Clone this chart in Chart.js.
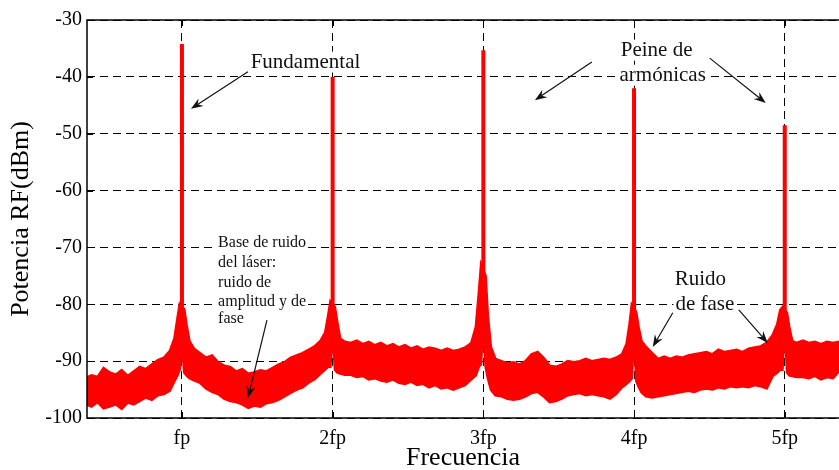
<!DOCTYPE html>
<html>
<head>
<meta charset="utf-8">
<script src="https://cdn.jsdelivr.net/npm/chart.js@4.4.1/dist/chart.umd.min.js"></script>
<style>
  html, body { margin: 0; padding: 0; background: #fff; }
  #caja { width: 839px; height: 470px; }
</style>
</head>
<body>
<div id="caja"><canvas id="grafico"></canvas></div>
<script>
// frecuencia en múltiplos de fp
var freq = [
  0.36, 0.40, 0.44, 0.48, 0.52, 0.56, 0.60, 0.64, 0.68, 0.72, 0.76, 0.80, 0.84, 0.88, 0.92,
  0.95, 0.97, 0.985, 1.00, 1.015, 1.03, 1.05, 1.08,
  1.12, 1.16, 1.20, 1.24, 1.28, 1.32, 1.36, 1.40, 1.44, 1.48, 1.52, 1.56, 1.60, 1.64, 1.68, 1.72, 1.76, 1.80, 1.84, 1.88, 1.92,
  1.95, 1.97, 1.985, 2.00, 2.015, 2.03, 2.05, 2.08,
  2.12, 2.16, 2.20, 2.24, 2.28, 2.32, 2.36, 2.40, 2.44, 2.48, 2.52, 2.56, 2.60, 2.64, 2.68, 2.72, 2.76, 2.80, 2.84, 2.88, 2.92,
  2.95, 2.97, 2.985, 3.00, 3.015, 3.03, 3.05, 3.08,
  3.12, 3.16, 3.20, 3.24, 3.28, 3.32, 3.36, 3.40, 3.44, 3.48, 3.52, 3.56, 3.60, 3.64, 3.68, 3.72, 3.76, 3.80, 3.84, 3.88, 3.92,
  3.95, 3.97, 3.985, 4.00, 4.015, 4.03, 4.05, 4.08,
  4.12, 4.16, 4.20, 4.24, 4.28, 4.32, 4.36, 4.40, 4.44, 4.48, 4.52, 4.56, 4.60, 4.64, 4.68, 4.72, 4.76, 4.80, 4.84, 4.88, 4.92,
  4.95, 4.97, 4.985, 5.00, 5.015, 5.03, 5.05, 5.08,
  5.12, 5.16, 5.20, 5.24, 5.28, 5.32, 5.36
];

// borde superior de la base de ruido (dBm)
var superior = [
  -93.0, -92.5, -92.8, -91.2, -92.0, -92.4, -91.6, -92.6, -91.8, -91.0, -91.4, -90.6, -89.8, -89.4, -88.2,
  -86.0, -82.5, -80.0, -80.5, -80.8, -83.5, -86.5, -87.8,
  -88.6, -89.4, -89.0, -90.2, -90.8, -91.0, -91.8, -91.4, -92.2, -92.0, -91.6, -91.8, -91.2, -90.6, -90.2, -89.4, -89.0, -88.6, -88.0, -87.4, -86.4,
  -85.0, -82.0, -79.5, -80.0, -80.5, -83.0, -86.0, -86.6,
  -86.8, -86.4, -87.0, -86.6, -87.2, -86.8, -87.4, -87.0, -87.6, -87.2, -87.8, -87.4, -88.0, -87.6, -87.8, -88.2, -87.8, -88.2, -88.0, -87.6, -86.8,
  -84.0, -78.0, -73.0, -74.0, -75.0, -82.0, -87.5, -89.6,
  -90.0, -90.4, -90.2, -90.6, -90.0, -88.8, -88.4, -89.4, -90.8, -91.0, -90.6, -90.0, -90.2, -90.0, -89.6, -90.0, -89.8, -89.6, -89.8, -89.4, -88.8,
  -87.0, -83.5, -80.0, -80.5, -81.5, -84.0, -86.5, -87.5,
  -88.6, -89.6, -89.2, -89.6, -89.2, -89.4, -89.0, -88.8, -88.6, -88.4, -88.8, -88.0, -88.4, -88.2, -88.0, -88.4, -87.8, -87.6, -87.4, -86.8, -85.4,
  -83.5, -81.0, -80.5, -81.0, -81.5, -84.0, -86.5, -86.8,
  -86.4, -86.8, -86.6, -87.0, -86.6, -86.8, -86.6
];

// borde inferior de la base de ruido (dBm)
var inferior = [
  -97.5, -98.0, -97.2, -98.3, -98.0, -97.6, -98.4, -97.3, -97.6, -97.0, -96.4, -96.8, -96.0, -95.8, -95.2,
  -93.5, -92.5, -91.5, -86.5, -92.0, -92.5, -93.0, -93.4,
  -93.8, -94.8, -95.4, -95.8, -96.6, -97.0, -97.2, -97.6, -98.2, -97.8, -98.0, -97.4, -97.2, -96.8, -96.2, -95.6, -95.0, -94.6, -93.8, -93.2, -92.2,
  -91.5, -91.0, -91.0, -85.0, -91.5, -92.0, -92.2, -92.4,
  -92.4, -92.8, -92.6, -93.2, -93.0, -93.4, -93.6, -93.2, -93.8, -94.0, -93.6, -94.2, -94.0, -94.6, -94.2, -94.8, -94.6, -95.0, -94.6, -94.2, -93.2,
  -92.5, -91.0, -90.5, -82.0, -91.0, -93.0, -95.0, -96.0,
  -96.2, -96.6, -96.8, -96.6, -96.2, -95.6, -95.4, -96.2, -97.2, -97.0, -96.6, -96.0, -95.8, -95.6, -96.0, -95.8, -96.0, -96.2, -96.6, -95.8, -94.6,
  -94.0, -93.5, -93.0, -85.0, -93.5, -94.5, -95.5, -96.2,
  -96.4, -96.2, -96.0, -95.8, -95.6, -95.4, -95.2, -95.4, -95.0, -94.8, -95.0, -94.6, -94.8, -94.4, -94.6, -94.4, -94.6, -94.2, -94.4, -94.8, -92.6,
  -92.0, -91.5, -91.5, -83.5, -92.0, -92.5, -92.6, -92.8,
  -92.8, -93.0, -92.6, -93.2, -92.8, -93.0, -91.8
];

// armónicos: posición, pico y pie de cada raya
var armonicos = [1, 2, 3, 4, 5];
var picos = [-34.2, -40.0, -35.3, -42.0, -48.5];
var piePico = [-86.5, -85.0, -82.0, -85.0, -83.5];
var etiquetasX = ['fp', '2fp', '3fp', '4fp', '5fp'];

var serif = '"Liberation Serif", "DejaVu Serif", serif';

// textos y flechas (en unidades de los ejes)
var notas = [
  { t: 'Fundamental', x: 1.82, y: -37.4, s: 21, a: 'center' },
  { t: 'Peine de', x: 4.15, y: -35.3, s: 21, a: 'center' },
  { t: 'armónicas', x: 4.19, y: -39.7, s: 21, a: 'center' },
  { t: 'Base de ruido', x: 1.24, y: -69.2, s: 16, a: 'left' },
  { t: 'del láser:', x: 1.24, y: -72.7, s: 16, a: 'left' },
  { t: 'ruido de', x: 1.24, y: -76.3, s: 16, a: 'left' },
  { t: 'amplitud y de', x: 1.24, y: -79.6, s: 16, a: 'left' },
  { t: 'fase', x: 1.24, y: -82.6, s: 16, a: 'left' },
  { t: 'Ruido', x: 4.44, y: -75.7, s: 21, a: 'center' },
  { t: 'de fase', x: 4.47, y: -80.1, s: 21, a: 'center' }
];
var flechas = [
  [1.438, -39.1, 1.060, -45.6],
  [3.720, -37.4, 3.342, -44.1],
  [4.502, -36.7, 4.874, -44.6],
  [1.564, -82.8, 1.438, -96.5],
  [4.257, -81.5, 4.124, -87.5],
  [4.695, -81.0, 4.887, -86.8]
];

var bordeInf = freq.map(function(f, i) { return { x: f, y: inferior[i] }; });
var bordeSup = freq.map(function(f, i) { return { x: f, y: superior[i] }; });
var rayas = [];
armonicos.forEach(function(k, i) {
  rayas.push({ x: k, y: piePico[i] }, { x: k, y: picos[i] }, { x: k, y: null });
});

var anotaciones = {
  id: 'anotaciones',
  beforeDatasetsDraw: function(chart) {
    var ctx = chart.ctx, sx = chart.scales.x, sy = chart.scales.y;
    ctx.save();
    ctx.textBaseline = 'middle';
    notas.forEach(function(n) {
      ctx.font = n.s + 'px ' + serif;
      var w = ctx.measureText(n.t).width;
      var px = sx.getPixelForValue(n.x), py = sy.getPixelForValue(n.y);
      var x0 = n.a === 'center' ? px - w / 2 : px;
      ctx.fillStyle = '#fff';
      ctx.fillRect(x0 - 2, py - n.s * 0.5, w + 4, n.s);
      ctx.fillStyle = '#111';
      ctx.textAlign = 'left';
      ctx.fillText(n.t, x0, py);
    });
    ctx.restore();
  },
  afterDatasetsDraw: function(chart) {
    var ctx = chart.ctx, sx = chart.scales.x, sy = chart.scales.y;
    var a = chart.chartArea;
    ctx.save();
    // flechas
    ctx.strokeStyle = '#111';
    ctx.fillStyle = '#111';
    ctx.lineWidth = 1.2;
    flechas.forEach(function(f) {
      var x1 = sx.getPixelForValue(f[0]), y1 = sy.getPixelForValue(f[1]);
      var x2 = sx.getPixelForValue(f[2]), y2 = sy.getPixelForValue(f[3]);
      var ang = Math.atan2(y2 - y1, x2 - x1);
      ctx.beginPath();
      ctx.moveTo(x1, y1);
      ctx.lineTo(x2 - 6 * Math.cos(ang), y2 - 6 * Math.sin(ang));
      ctx.stroke();
      ctx.beginPath();
      ctx.moveTo(x2, y2);
      ctx.lineTo(x2 - 12 * Math.cos(ang) + 4.5 * Math.sin(ang), y2 - 12 * Math.sin(ang) - 4.5 * Math.cos(ang));
      ctx.lineTo(x2 - 8 * Math.cos(ang), y2 - 8 * Math.sin(ang));
      ctx.lineTo(x2 - 12 * Math.cos(ang) - 4.5 * Math.sin(ang), y2 - 12 * Math.sin(ang) + 4.5 * Math.cos(ang));
      ctx.closePath();
      ctx.fill();
    });
    // marco y marcas interiores
    ctx.strokeStyle = '#000';
    ctx.lineWidth = 1.5;
    ctx.beginPath();
    ctx.moveTo(a.right + 2, a.top);
    ctx.lineTo(a.left, a.top);
    ctx.lineTo(a.left, a.bottom);
    ctx.lineTo(a.right + 2, a.bottom);
    ctx.stroke();
    ctx.lineWidth = 1;
    ctx.beginPath();
    sx.ticks.forEach(function(t) {
      var px = Math.round(sx.getPixelForValue(t.value)) + 0.5;
      ctx.moveTo(px, a.bottom); ctx.lineTo(px, a.bottom - 6);
      ctx.moveTo(px, a.top); ctx.lineTo(px, a.top + 6);
    });
    sy.ticks.forEach(function(t) {
      var py = Math.round(sy.getPixelForValue(t.value)) + 0.5;
      ctx.moveTo(a.left, py); ctx.lineTo(a.left + 6, py);
    });
    ctx.stroke();
    ctx.restore();
  }
};

var ctx = document.getElementById('grafico').getContext('2d');
var grafico = new Chart(ctx, {
  type: 'line',
  data: {
    datasets: [{
      label: 'inferior',
      data: bordeInf,
      borderColor: '#ff0000',
      borderWidth: 2.5,
      pointRadius: 0,
      fill: false,
      clip: 0
    }, {
      label: 'superior',
      data: bordeSup,
      borderColor: '#ff0000',
      backgroundColor: '#ff0000',
      borderWidth: 2.5,
      pointRadius: 0,
      fill: '-1',
      clip: 0
    }, {
      label: 'armónicos',
      data: rayas,
      borderColor: '#ff0000',
      borderWidth: 4,
      borderCapStyle: 'butt',
      pointRadius: 0,
      spanGaps: false,
      fill: false,
      clip: 0
    }]
  },
  options: {
    responsive: true,
    maintainAspectRatio: false,
    animation: false,
    layout: { padding: { top: 20, right: 0, left: 0, bottom: 0 } },
    plugins: {
      legend: { display: false },
      tooltip: { enabled: false }
    },
    scales: {
      x: {
        type: 'linear',
        min: 0.37,
        max: 5.36,
        afterBuildTicks: function(scale) {
          scale.ticks = armonicos.map(function(v) { return { value: v }; });
        },
        afterFit: function(scale) { scale.height = 52; },
        ticks: {
          color: '#000',
          padding: 9,
          maxRotation: 0,
          font: { family: serif, size: 20 },
          callback: function(v, i) { return etiquetasX[i]; }
        },
        grid: { color: '#000', lineWidth: 1, drawTicks: false },
        border: { display: false, dash: [8, 5] },
        title: {
          display: true,
          text: 'Frecuencia',
          color: '#000',
          font: { family: serif, size: 26, lineHeight: 0.9 },
          padding: 0
        }
      },
      y: {
        min: -100,
        max: -30,
        afterFit: function(scale) { scale.width = 87; },
        ticks: {
          stepSize: 10,
          color: '#000',
          padding: 5,
          font: { family: serif, size: 20 }
        },
        grid: { color: '#000', lineWidth: 1, drawTicks: false },
        border: { display: false, dash: [8, 5] },
        title: {
          display: true,
          text: 'Potencia RF(dBm)',
          color: '#000',
          font: { family: serif, size: 26 },
          padding: { top: 6, bottom: 0 }
        }
      }
    }
  },
  plugins: [anotaciones]
});
</script>
</body>
</html>
